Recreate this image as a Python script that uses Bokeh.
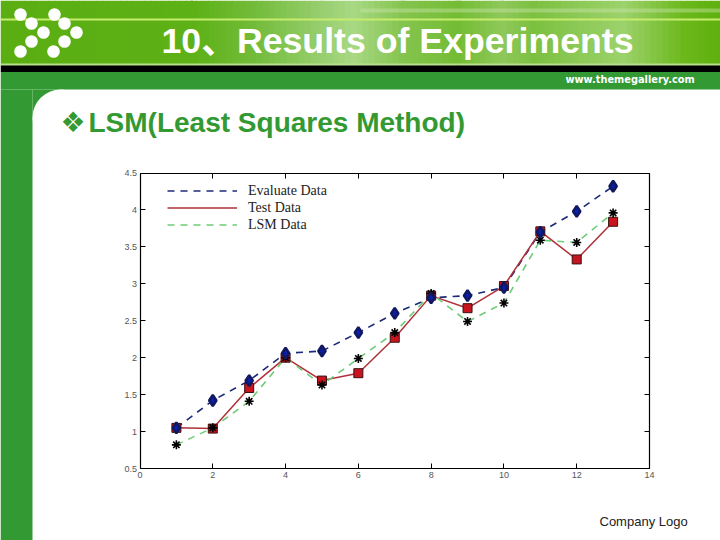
from bokeh.embed import file_html
from bokeh.resources import INLINE
from bokeh.plotting import figure
from bokeh.core.properties import value
from bokeh.models import Legend, LegendItem, LinearAxis, FixedTicker, Range1d

x_vals = [1, 2, 3, 4, 5, 6, 7, 8, 9, 10, 11, 12, 13]
evaluate_data = [1.05, 1.42, 1.69, 2.06, 2.09, 2.34, 2.60, 2.81, 2.84, 2.95, 3.70, 3.98, 4.32]
test_data = [1.05, 1.04, 1.59, 2.00, 1.69, 1.79, 2.27, 2.84, 2.67, 2.97, 3.71, 3.33, 3.84]
lsm_data = [0.82, 1.05, 1.41, 2.00, 1.63, 1.99, 2.34, 2.87, 2.49, 2.74, 3.59, 3.56, 3.96]
x_ticks = [0, 2, 4, 6, 8, 10, 12, 14]
y_ticks = [0.5, 1, 1.5, 2, 2.5, 3, 3.5, 4, 4.5]
series_names = ["Evaluate Data", "Test Data", "LSM Data"]

W, H = 720, 540
FL, FR, FT, FB = 139.5, 649, 172.5, 468
ux = (FR - FL) / 14
uy = (FB - FT) / 4

p = figure(width=W, height=H, output_backend="svg", toolbar_location=None,
           x_range=Range1d(0, W), y_range=Range1d(H, 0),
           x_axis_location=None, y_axis_location=None, min_border=0)
p.grid.visible = False
p.outline_line_color = None
p.background_fill_color = "white"
p.border_fill_color = "white"
p.extra_x_ranges["cx"] = Range1d(-FL / ux, (W - FL) / ux)
p.extra_y_ranges["cy"] = Range1d(0.5 - (H - FB) / uy, 0.5 + FB / uy)

# ---- page decoration (pixel ranges) ----
stops = [(0, "#5aae12"), (190, "#5db116"), (250, "#72bb3a"), (320, "#98cf70"), (350, "#a8d884"),
         (400, "#84c44e"), (455, "#74bc34"), (500, "#8ec85a"), (530, "#7cc040"), (620, "#9cd26c"),
         (680, "#6cb81c"), (720, "#5cb00c")]


def mix(c0, c1, t):
    a = [int(c0[i:i + 2], 16) for i in (1, 3, 5)]
    b = [int(c1[i:i + 2], 16) for i in (1, 3, 5)]
    return "#%02x%02x%02x" % tuple(round(u + (v - u) * t) for u, v in zip(a, b))


lefts, rights, cols = [], [], []
for (x0, c0), (x1, c1) in zip(stops, stops[1:]):
    for s in range(x0, x1, 6):
        lefts.append(s)
        rights.append(min(s + 6.5, W))
        cols.append(mix(c0, c1, (s - x0) / (x1 - x0)))
p.quad(left=lefts, right=rights, top=[0] * len(lefts), bottom=[65] * len(lefts),
       fill_color=cols, line_color=None)


def box(x0, y0, x1, y1, color, alpha=1.0):
    p.quad(left=[x0], right=[x1], top=[y0], bottom=[y1], fill_color=color, fill_alpha=alpha, line_color=None)


box(0, 18, W, 20, "#c6ec6e")
box(0, 63, W, 65, "#b8e08c")
box(360, 8, W, 12, "#c8e4a8", alpha=0.45)
box(0, 65, W, 71.5, "#000000")
box(0, 71.5, W, 89, "#339933")
box(0, 89, 32, H, "#339933")
box(32, 89, 60, 117, "#339933")
p.circle(x=[60], y=[117], radius=28, fill_color="white", line_color=None)

dot_x = [20, 54, 31, 64, 43, 76, 31, 64, 20, 53]
dot_y = [14, 14, 23, 23, 32, 32, 41, 41, 51, 51]
p.scatter(dot_x, dot_y, marker="circle", size=12.6, fill_color="white", line_color=None)


def text(x, y, s, font, size, color, style="normal"):
    p.text(x=[x], y=[y], text=[s], text_font=value(font), text_font_size=value(size), text_color=color,
           text_font_style=style, text_baseline="middle", text_align="left")


text(161, 40, "10、Results of Experiments", "Liberation Sans, Noto Sans CJK SC", "35.7px", "white", "bold")
text(565, 79, "www.themegallery.com", "DejaVu Sans", "9.8px", "white", "bold")
text(60, 122, "❖", "DejaVu Sans", "28px", "#339933", "bold")
text(88, 122, "LSM(Least Squares Method)", "Liberation Sans", "28px", "#339933", "bold")
text(599, 521, "Company Logo", "Liberation Sans", "13px", "#222222")


# ---- chart axes ----
def axis(place_loc, ticks, bounds, labelled, place):
    a = LinearAxis(x_range_name="cx", y_range_name="cy", fixed_location=place_loc,
                   ticker=FixedTicker(ticks=ticks), bounds=bounds, major_tick_in=5, major_tick_out=0,
                   minor_tick_line_color=None, axis_line_color="black", axis_line_width=1.2,
                   major_tick_line_color="black",
                   major_label_text_font="Liberation Sans", major_label_text_font_size="9px",
                   major_label_text_color="#555555" if labelled else None, major_label_standoff=3)
    p.add_layout(a, place)
    return a


axis(0.5, x_ticks, (0, 14), True, "below")
axis(4.5, x_ticks, (0, 14), False, "above")
axis(0, y_ticks, (0.5, 4.5), True, "left")
axis(14, y_ticks, (0.5, 4.5), False, "right")

# ---- chart series ----
NAVY, RED, GREEN = "#1c2a78", "#b03038", "#6ecb78"
kw = dict(x_range_name="cx", y_range_name="cy")
l_eval = p.line(x_vals, evaluate_data, line_color=NAVY, line_width=1.6, line_dash=[7, 6], **kw)
l_test = p.line(x_vals, test_data, line_color=RED, line_width=1.5, **kw)
l_lsm = p.line(x_vals, lsm_data, line_color=GREEN, line_width=1.6, line_dash=[7, 6], **kw)
p.scatter(x_vals, test_data, marker="square", size=9, fill_color="#c8141e", line_color="#3a1010", line_width=1, **kw)
p.scatter(x_vals, lsm_data, marker="asterisk", size=9, fill_color=None, line_color="black", line_width=1.6, **kw)
p.scatter(x_vals, evaluate_data, marker="diamond", size=11, fill_color="#0c1ea8", line_color="#101860", line_width=2.5, **kw)

legend = Legend(items=[LegendItem(label=n, renderers=[r]) for n, r in
                       zip(series_names, (l_eval, l_test, l_lsm))],
                location=(167, 307), orientation="vertical", border_line_color=None,
                background_fill_alpha=0, glyph_width=70, glyph_height=17, label_height=17,
                spacing=0, padding=8, margin=0, label_standoff=11,
                label_text_font="Liberation Serif", label_text_font_size="14px",
                label_text_color="#222222")
p.add_layout(legend)

open("out.html", "w").write(file_html(p, INLINE))
